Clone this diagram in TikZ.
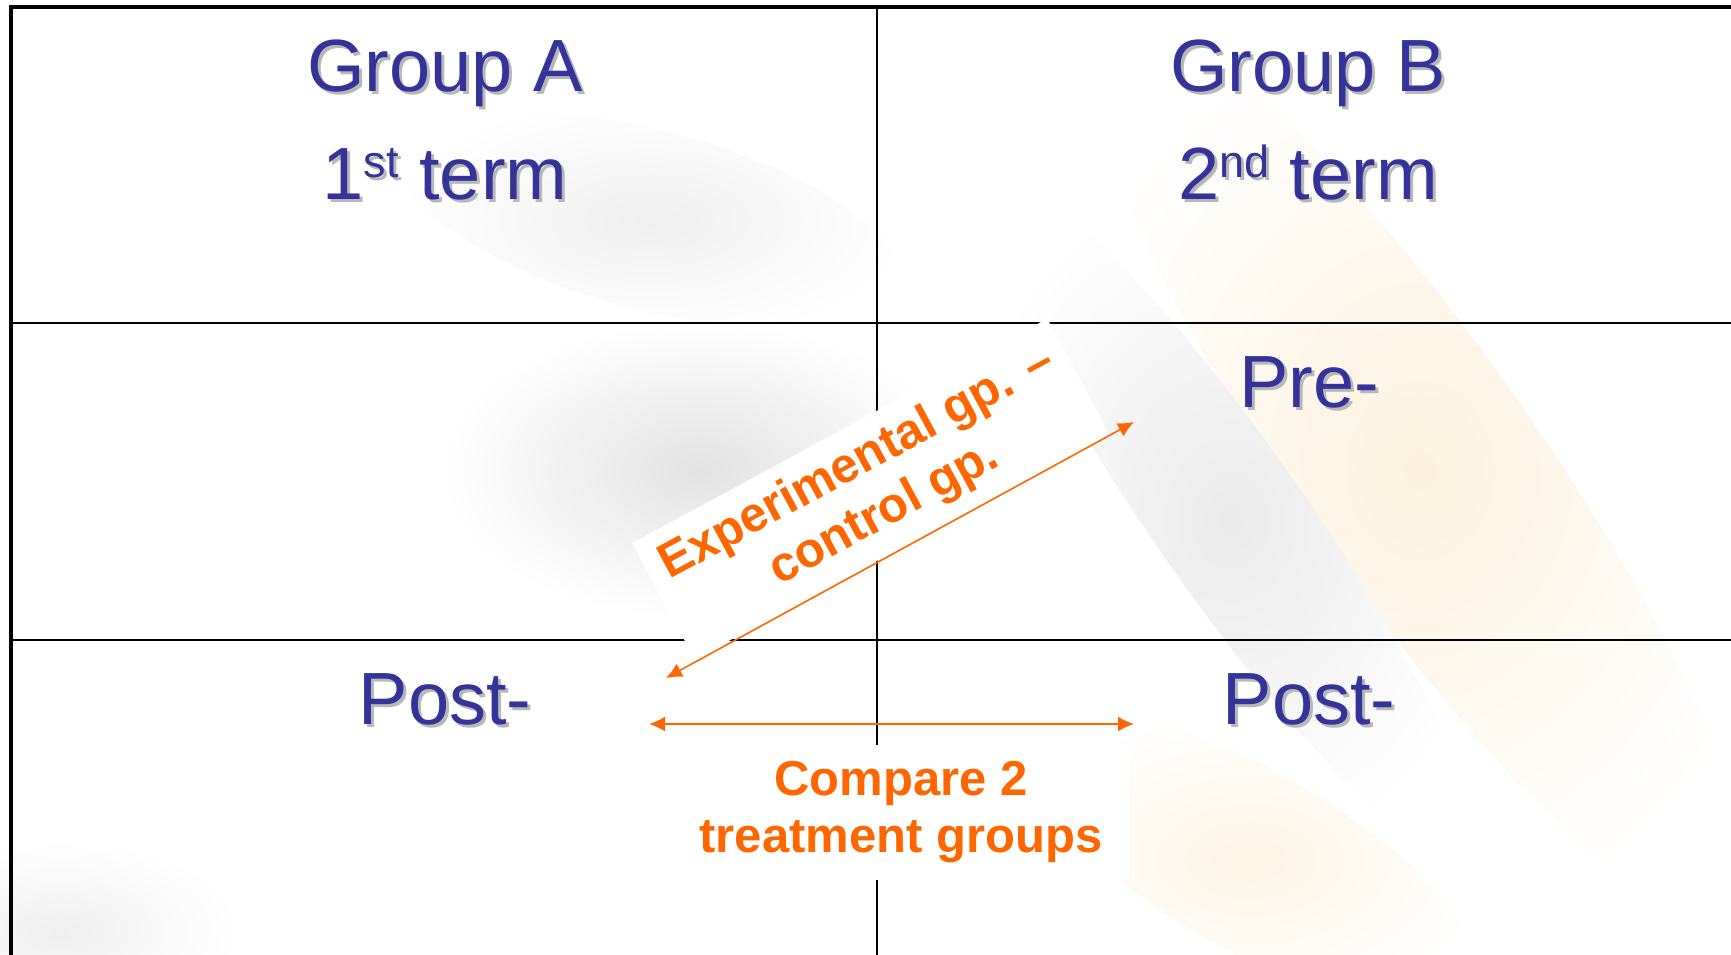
\documentclass[tikz,border=0pt]{standalone}
\usepackage{fontspec}
\setmainfont{Liberation Sans}
\usetikzlibrary{arrows.meta}
\definecolor{ppblue}{RGB}{51,51,153}
\definecolor{pporange}{RGB}{255,102,0}
\definecolor{cream}{RGB}{252,242,222}
\newcommand\shd[1]{\leavevmode\rlap{\kern3pt\raisebox{-3pt}{\color{black!28}#1}}#1}
\newcommand\sups[1]{\raisebox{22pt}{\fontsize{45}{45}\selectfont #1}}
\begin{document}
\begin{tikzpicture}[x=1pt,y=-1pt,
  grid/.style={line width=2pt, black},
  frame/.style={line width=4.5pt, black},
  big/.style={text=ppblue, font=\fontsize{74}{80}\selectfont, inner sep=0pt, anchor=base},
  lbl/.style={text=pporange, font=\bfseries\fontsize{49}{57}\selectfont, align=center, fill=white, inner sep=0pt},
  arr/.style={pporange, line width=2pt, {Latex[length=16pt,width=15pt]}-{Latex[length=16pt,width=15pt]}},
  blob/.style={outer color=white}
]
\useasboundingbox (0,0) rectangle (1731,955);
\fill[white] (0,0) rectangle (1731,955);
% faint photographic background
\begin{scope}
\clip (0,0) rectangle (1731,955);
\shade[blob, inner color=black!11] (700,470) ellipse (260 and 150);
\shade[blob, inner color=black!6, rotate around={-15:(650,220)}] (650,220) ellipse (260 and 90);
\shade[blob, inner color=cream, rotate around={-55:(1420,470)}] (1420,470) ellipse (560 and 120);
\shade[blob, inner color=black!8, rotate around={-55:(1230,520)}] (1230,520) ellipse (420 and 75);
\shade[blob, inner color=cream!80, rotate around={-30:(1250,860)}] (1250,860) ellipse (260 and 90);
\shade[blob, inner color=black!6] (60,930) ellipse (180 and 90);
\end{scope}
% table
\draw[grid] (877,7) -- (877,955);
\draw[grid] (11,323) -- (1731,323);
\draw[grid] (11,640) -- (1731,640);
\draw[frame] (11,955) -- (11,7) -- (1731,7);
% texts
\node[big] (ga) at (445,92) {\shd{Group A}};
\node[big] (ta) at (445,199) {\shd{1\sups{st} term}};
\node[big] (gb) at (1308,92) {\shd{Group B}};
\node[big] (tb) at (1308,199) {\shd{2\sups{nd} term}};
\node[big] (pre) at (1309,407) {\shd{Pre-}};
\node[big] (posta) at (445,724) {\shd{Post-}};
\node[big] (postb) at (1309,724) {\shd{Post-}};
% labels
\node[lbl, rotate=28.4, minimum width=472, minimum height=132] (eg) at (871,489) {Experimental gp. --\\control gp.};
\node[lbl, minimum width=456, minimum height=135] (cmp) at (901,812) {Compare 2\\treatment groups};
% arrows
\coordinate (h1) at (649,724);
\coordinate (h2) at (1134,724);
\coordinate (d1) at (666,678);
\coordinate (d2) at (1134,422);
\draw[arr] (h1) -- (h2);
\draw[arr, line width=1.6pt] (d1) -- (d2);
\end{tikzpicture}
\end{document}
